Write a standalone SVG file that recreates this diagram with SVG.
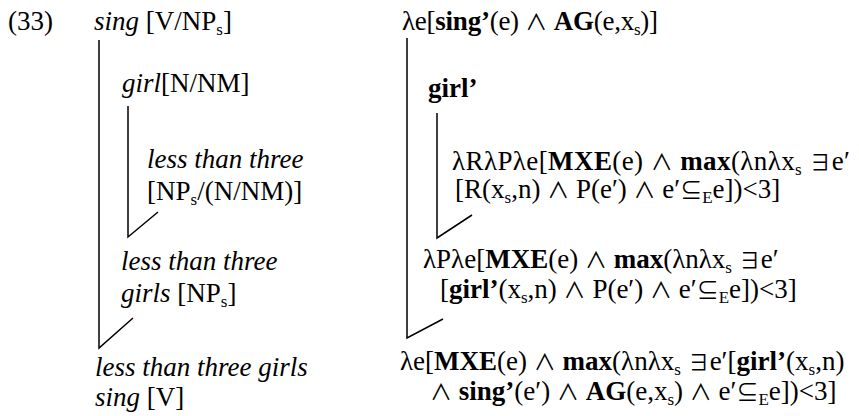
<svg xmlns="http://www.w3.org/2000/svg" width="859" height="416" viewBox="0 0 859 416">
<style>
text{font-family:"Liberation Serif","Times New Roman",serif;font-size:27px;fill:#000}
.i{font-style:italic}
.b{font-weight:bold}
.s{font-size:17px}
.m{font-family:"Noto Sans CJK JP","DejaVu Serif",serif;font-weight:normal;font-size:22px}
.c line,.c path{stroke:#000;stroke-width:1.5;fill:none}
</style>
<rect width="859" height="416" fill="#fff"/>
<g id="label"><text x="8" y="30">(33)</text></g>
<g id="syn-sing"><text x="94" y="30"><tspan class="i">sing</tspan> [V/NP<tspan class="s" dy="5">s</tspan><tspan dy="-5">]</tspan></text></g>
<g id="syn-girl"><text x="122" y="92"><tspan class="i">girl</tspan>[N/NM]</text></g>
<g id="syn-ltt"><text x="147" y="168" class="i">less than three</text><text x="147" y="200">[NP<tspan class="s" dy="5">s</tspan><tspan dy="-5">/(N/NM)]</tspan></text></g>
<g id="syn-lttg"><text x="121" y="270" class="i">less than three</text><text x="121" y="302"><tspan class="i">girls</tspan> [NP<tspan class="s" dy="5">s</tspan><tspan dy="-5">]</tspan></text></g>
<g id="syn-result"><text x="95" y="376" class="i">less than three girls</text><text x="95" y="406"><tspan class="i">sing</tspan> [V]</text></g>
<g id="sem-sing"><text x="402" y="30" textLength="256" lengthAdjust="spacing">λe[<tspan class="b">sing’</tspan>(e) <tspan class="m">∧</tspan> <tspan class="b">AG</tspan>(e,x<tspan class="s" dy="5">s</tspan><tspan dy="-5">)]</tspan></text></g>
<g id="sem-girl"><text x="428" y="97" class="b">girl’</text></g>
<g id="sem-ltt"><text x="452" y="170" textLength="398" lengthAdjust="spacing">λRλPλe[<tspan class="b">MXE</tspan>(e) <tspan class="m">∧</tspan> <tspan class="b">max</tspan>(λnλx<tspan class="s" dy="5">s</tspan><tspan dy="-5"> </tspan><tspan class="m">∃</tspan>e′</text><text x="455" y="198">[R(x<tspan class="s" dy="5">s</tspan><tspan dy="-5">,n) </tspan><tspan class="m">∧</tspan> P(e′) <tspan class="m">∧</tspan> e′<tspan class="m">⊆</tspan><tspan class="s" dy="5">E</tspan><tspan dy="-5">e])&lt;3]</tspan></text></g>
<g id="sem-lttg"><text x="423" y="268">λPλe[<tspan class="b">MXE</tspan>(e) <tspan class="m">∧</tspan> <tspan class="b">max</tspan>(λnλx<tspan class="s" dy="5">s</tspan><tspan dy="-5"> </tspan><tspan class="m">∃</tspan>e′</text><text x="440" y="298">[<tspan class="b">girl’</tspan>(x<tspan class="s" dy="5">s</tspan><tspan dy="-5">,n) </tspan><tspan class="m">∧</tspan> P(e′) <tspan class="m">∧</tspan> e′<tspan class="m">⊆</tspan><tspan class="s" dy="5">E</tspan><tspan dy="-5">e])&lt;3]</tspan></text></g>
<g id="sem-result"><text x="400" y="370">λe[<tspan class="b">MXE</tspan>(e) <tspan class="m">∧</tspan> <tspan class="b">max</tspan>(λnλx<tspan class="s" dy="5">s</tspan><tspan dy="-5"> </tspan><tspan class="m">∃</tspan>e′[<tspan class="b">girl’</tspan>(x<tspan class="s" dy="5">s</tspan><tspan dy="-5">,n)</tspan></text><text x="430" y="400"><tspan class="m">∧</tspan> <tspan class="b">sing’</tspan>(e′) <tspan class="m">∧</tspan> <tspan class="b">AG</tspan>(e,x<tspan class="s" dy="5">s</tspan><tspan dy="-5">) </tspan><tspan class="m">∧</tspan> e′<tspan class="m">⊆</tspan><tspan class="s" dy="5">E</tspan><tspan dy="-5">e])&lt;3]</tspan></text></g>
<g id="connectors" class="c">
<path d="M99 40V348L133 318"/>
<path d="M128 106V237L158 212"/>
<path d="M407 38V338L443 319"/>
<path d="M437 113V238L472 215"/>
</g>
</svg>
